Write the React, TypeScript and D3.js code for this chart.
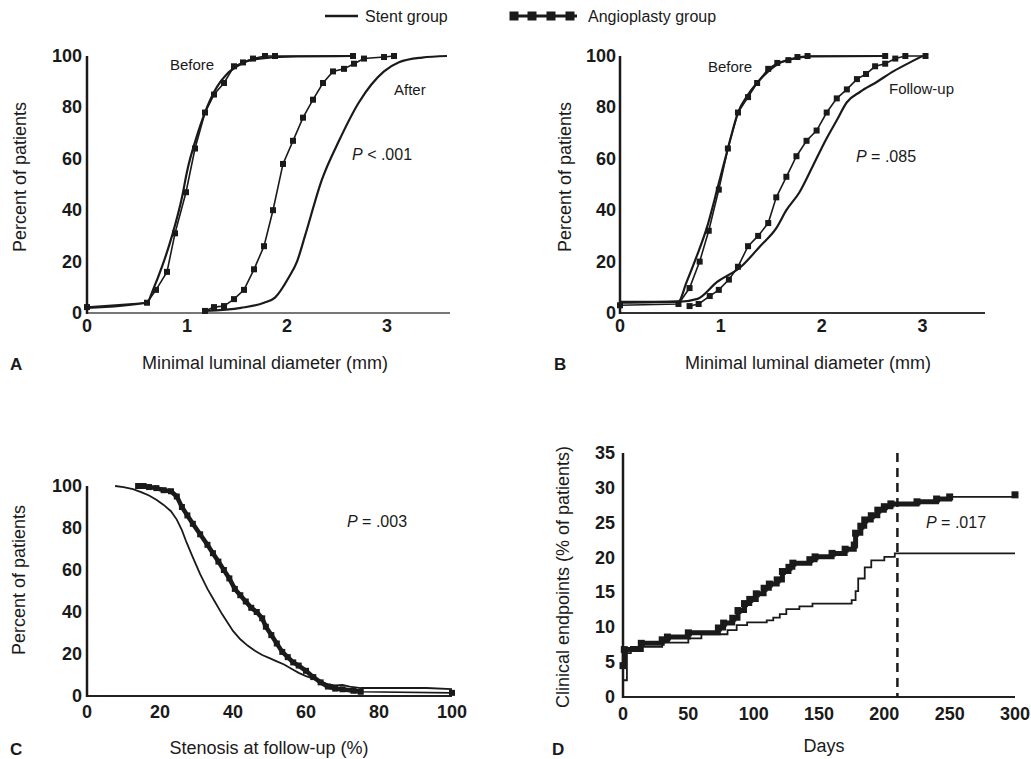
import React from 'react';
import * as d3 from 'd3';

type Pt = [number, number];

// tick values
const diamTicks = [0, 1, 2, 3];
const pctTicks = [0, 20, 40, 60, 80, 100];
const stenosisTicks = [0, 20, 40, 60, 80, 100];
const dayTicks = [0, 50, 100, 150, 200, 250, 300];
const endpointTicks = [0, 5, 10, 15, 20, 25, 30, 35];

// A: minimal luminal diameter, before and after
const aBeforeStent: Pt[] = [[0, 2], [0.6, 4], [0.66, 9], [0.75, 18], [0.85, 30], [0.95, 45], [1.0, 55], [1.1, 69], [1.2, 80], [1.3, 88], [1.4, 93], [1.5, 96], [1.6, 98], [1.8, 99.3], [2.1, 99.8], [2.66, 100]];
const aBeforeAngio: Pt[] = [[0, 2.3], [0.6, 4], [0.69, 9], [0.8, 16], [0.88, 31], [0.99, 47], [1.08, 64], [1.18, 78], [1.27, 85], [1.37, 89.5], [1.47, 96], [1.56, 97.5], [1.66, 99], [1.78, 100], [1.88, 100], [2.66, 100]];
const aAfterStent: Pt[] = [[1.18, 0.8], [1.54, 2], [1.77, 4], [1.88, 6], [2.02, 14], [2.1, 20], [2.18, 30], [2.35, 52], [2.52, 67], [2.72, 82], [2.97, 94], [3.12, 97.6], [3.35, 99.4], [3.6, 100]];
const aAfterAngio: Pt[] = [[1.18, 0.8], [1.27, 2.3], [1.37, 2.7], [1.47, 5.4], [1.57, 9], [1.67, 17], [1.77, 26], [1.86, 40], [1.96, 58], [2.06, 67], [2.16, 76], [2.26, 83], [2.36, 89.5], [2.46, 94], [2.57, 95], [2.67, 97], [2.77, 99], [2.97, 99.6], [3.07, 100]];

// B: minimal luminal diameter, before and follow-up
const bBeforeStent: Pt[] = [[0, 4], [0.58, 4.5], [0.66, 12], [0.76, 22], [0.86, 33], [0.97, 49], [1.07, 64], [1.17, 78], [1.27, 85], [1.37, 90], [1.47, 94], [1.57, 97], [1.7, 98.8], [1.9, 99.8], [2.63, 100]];
const bBeforeAngio: Pt[] = [[0, 3], [0.58, 3.5], [0.69, 9.7], [0.79, 20], [0.88, 32], [0.98, 48], [1.07, 64], [1.17, 78], [1.27, 84], [1.36, 89.5], [1.47, 95], [1.56, 97.3], [1.67, 98.4], [1.76, 99.6], [1.86, 100], [2.63, 100]];
const bFollowStent: Pt[] = [[0, 4.3], [0.57, 4.3], [0.77, 5.5], [0.96, 12], [1.2, 18], [1.39, 26], [1.55, 33], [1.65, 40], [1.78, 47], [1.91, 57], [2.05, 68], [2.15, 75], [2.25, 82], [2.38, 86], [2.55, 90], [2.71, 94], [2.9, 98], [3.0, 100]];
const bFollowAngio: Pt[] = [[0.69, 2.7], [0.78, 3.5], [0.89, 6.6], [0.98, 9], [1.08, 13], [1.17, 18], [1.27, 26], [1.37, 30], [1.47, 35], [1.55, 45], [1.65, 53], [1.75, 61], [1.85, 67], [1.95, 71], [2.05, 78], [2.15, 83.5], [2.25, 87], [2.35, 91], [2.44, 93], [2.53, 96], [2.63, 97], [2.73, 99], [2.83, 100], [3.03, 100]];

// C: stenosis at follow-up
const cStent: Pt[] = [[7.7, 100], [10, 99.5], [12.6, 98.5], [15, 97], [17, 95.5], [19, 93.5], [21, 91], [23, 88], [24.6, 84], [26, 79], [27.3, 73], [29, 66], [31, 58], [33, 51], [35, 45], [37, 39], [38.5, 35], [40, 31], [42, 27], [44, 24], [46, 21.5], [48, 19.5], [50, 18], [52, 16.5], [54, 15], [56, 13], [58, 11], [60, 9.5], [62, 8.3], [64, 7], [66, 5.5], [68, 5], [70, 5.3], [72, 4.5], [75, 3.8], [93, 3.8], [100, 3.3]];
const cAngio: Pt[] = [[14, 100], [15.5, 100], [17, 99.5], [19, 99], [21, 98], [23, 97.5], [24.6, 95], [26, 90], [27.5, 86], [29, 82], [31, 77], [33, 72], [34.5, 68], [36, 64], [37.5, 60], [39, 56], [40.5, 51], [42, 48], [43.5, 45], [45, 42], [46.5, 40], [48, 37], [49, 33], [50.5, 29], [52, 25], [53.5, 21], [55, 18.5], [56.5, 16], [58, 14.5], [60, 12], [62, 9], [64, 6.5], [66, 4.5], [68, 3.5], [70, 3.2], [73, 2.5], [75, 2], [100, 1.5]];

// D: clinical endpoints over days (step curves)
const dStent: Pt[] = [[0, 2.4], [3, 6.3], [6, 7.2], [30, 7.8], [50, 8.4], [60, 9], [80, 9.6], [87, 10.3], [95, 10.7], [110, 11], [115, 11.4], [120, 11.9], [125, 12.6], [135, 13], [145, 13.4], [175, 13.9], [178, 15.2], [180, 17], [185, 18.6], [190, 19.6], [200, 20.1], [208, 20.6], [300, 20.6]];
const dAngio: Pt[] = [[0, 4.5], [1, 6.8], [14, 7.7], [30, 8.2], [34, 8.6], [50, 9.2], [73, 9.9], [77, 10.6], [84, 11.3], [88, 12.4], [93, 13.4], [97, 14], [102, 14.8], [108, 15.6], [112, 16.2], [118, 16.8], [122, 18], [127, 18.6], [130, 19.2], [143, 19.7], [147, 20.1], [160, 20.6], [170, 21.2], [177, 21.8], [178, 23.5], [182, 24.5], [185, 25.4], [190, 26], [195, 26.8], [200, 27.3], [205, 27.7], [225, 28], [240, 28.4], [250, 28.7], [300, 29]];
const dCutoff = 210;

const FONT = "'Liberation Sans', Arial, Helvetica, sans-serif";
const INK = '#1a1a1a';

type Scale = d3.ScaleLinear<number, number>;

function Axes({ x, y, xTicks, yTicks, xDy, yDx, xColor }: { x: Scale; y: Scale; xTicks: number[]; yTicks: number[]; xDy: number; yDx: number; xColor: string }) {
  const [x0, x1] = x.range();
  const [y0, y1] = y.range();
  return (
    <g fontFamily={FONT} fontWeight="bold" fontSize={18} fill={INK}>
      <line x1={x0} x2={x1} y1={y0} y2={y0} stroke={xColor} strokeWidth={2} />
      <line x1={x0} x2={x0} y1={y0 + 1} y2={y1} stroke={INK} strokeWidth={2.5} />
      {xTicks.map((t) => (
        <text key={'x' + t} x={x(t)} y={y0 + xDy} textAnchor="middle">{t}</text>
      ))}
      {yTicks.map((t) => (
        <text key={'y' + t} x={x0 - yDx} y={y(t)} textAnchor="end" dominantBaseline="central">{t}</text>
      ))}
    </g>
  );
}

function Squares({ pts, x, y, size }: { pts: Pt[]; x: Scale; y: Scale; size: number }) {
  return (
    <g fill={INK}>
      {pts.map((d, i) => (
        <rect key={i} x={x(d[0]) - size / 2} y={y(d[1]) - size / 2} width={size} height={size} />
      ))}
    </g>
  );
}

function Label({ x, y, children }: any) {
  return (
    <text x={x} y={y} fontFamily={FONT} fontSize={15} fill={INK}>
      {children}
    </text>
  );
}

function YTitle({ x, y, text }: { x: number; y: number; text: string }) {
  return (
    <text transform={`translate(${x},${y}) rotate(-90)`} textAnchor="middle" dominantBaseline="central" fontFamily={FONT} fontSize={18} fill={INK}>
      {text}
    </text>
  );
}

export default function App() {
  // panel A
  const ax = d3.scaleLinear().domain([0, 3.63]).range([87, 450]);
  const ay = d3.scaleLinear().domain([0, 100]).range([313, 56]);
  // panel B
  const bx = d3.scaleLinear().domain([0, 3.62]).range([620, 985]);
  const by = d3.scaleLinear().domain([0, 100]).range([313, 56]);
  // panel C
  const cx = d3.scaleLinear().domain([0, 100]).range([87, 452]);
  const cy = d3.scaleLinear().domain([0, 100]).range([696, 486]);
  // panel D
  const dx = d3.scaleLinear().domain([0, 300]).range([623, 1015]);
  const dy = d3.scaleLinear().domain([0, 35]).range([697, 453]);

  const smooth = (x: Scale, y: Scale) => d3.line<Pt>().x((d) => x(d[0])).y((d) => y(d[1])).curve(d3.curveMonotoneX);
  const straight = (x: Scale, y: Scale) => d3.line<Pt>().x((d) => x(d[0])).y((d) => y(d[1]));
  const step = (x: Scale, y: Scale) => d3.line<Pt>().x((d) => x(d[0])).y((d) => y(d[1])).curve(d3.curveStepAfter);

  const cAngioThick = cAngio.filter((d) => d[0] <= 75);
  const dAngioThick = dAngio.filter((d) => d[0] <= 250);

  return (
    <svg width={1031} height={759} style={{ display: 'block', position: 'absolute', left: 0, top: 0, background: '#fff' }}>
      {/* legend */}
      <g fontFamily={FONT} fontSize={16} fill={INK}>
        <line x1={325} x2={358} y1={16} y2={16} stroke={INK} strokeWidth={2.5} />
        <text x={365} y={22}>Stent group</text>
        <line x1={510} x2={577} y1={16} y2={16} stroke={INK} strokeWidth={3} />
        {[514, 532, 551, 570].map((p) => (
          <rect key={p} x={p - 4.5} y={11.5} width={9} height={9} fill={INK} />
        ))}
        <text x={588} y={22}>Angioplasty group</text>
      </g>

      {/* Panel A */}
      <Axes x={ax} y={ay} xTicks={diamTicks} yTicks={pctTicks} xDy={19} yDx={5} xColor="#777" />
      <path d={smooth(ax, ay)(aBeforeStent)!} fill="none" stroke={INK} strokeWidth={2.2} />
      <path d={straight(ax, ay)(aBeforeAngio)!} fill="none" stroke={INK} strokeWidth={1.6} />
      <Squares pts={aBeforeAngio} x={ax} y={ay} size={6} />
      <path d={smooth(ax, ay)(aAfterStent)!} fill="none" stroke={INK} strokeWidth={2.2} />
      <path d={straight(ax, ay)(aAfterAngio)!} fill="none" stroke={INK} strokeWidth={1.6} />
      <Squares pts={aAfterAngio} x={ax} y={ay} size={6} />
      <Label x={170} y={70}>Before</Label>
      <Label x={394} y={95}>After</Label>
      <text x={352} y={160} fontFamily={FONT} fontSize={16} fill={INK}><tspan fontStyle="italic">P</tspan> {'<'} .001</text>
      <YTitle x={20} y={177} text="Percent of patients" />
      <text x={10} y={370} fontFamily={FONT} fontSize={17} fontWeight="bold" fill={INK}>A</text>
      <text x={265} y={369} textAnchor="middle" fontFamily={FONT} fontSize={18} fill={INK}>Minimal luminal diameter (mm)</text>

      {/* Panel B */}
      <Axes x={bx} y={by} xTicks={diamTicks} yTicks={pctTicks} xDy={19} yDx={4} xColor="#333" />
      <path d={smooth(bx, by)(bBeforeStent)!} fill="none" stroke={INK} strokeWidth={2.2} />
      <path d={straight(bx, by)(bBeforeAngio)!} fill="none" stroke={INK} strokeWidth={1.6} />
      <Squares pts={bBeforeAngio} x={bx} y={by} size={6} />
      <path d={smooth(bx, by)(bFollowStent)!} fill="none" stroke={INK} strokeWidth={2.2} />
      <path d={straight(bx, by)(bFollowAngio)!} fill="none" stroke={INK} strokeWidth={1.6} />
      <Squares pts={bFollowAngio} x={bx} y={by} size={6} />
      <Label x={708} y={72}>Before</Label>
      <Label x={889} y={94}>Follow-up</Label>
      <text x={856} y={162} fontFamily={FONT} fontSize={16} fill={INK}><tspan fontStyle="italic">P</tspan> = .085</text>
      <YTitle x={565} y={177} text="Percent of patients" />
      <text x={554} y={370} fontFamily={FONT} fontSize={17} fontWeight="bold" fill={INK}>B</text>
      <text x={808} y={369} textAnchor="middle" fontFamily={FONT} fontSize={18} fill={INK}>Minimal luminal diameter (mm)</text>

      {/* Panel C */}
      <Axes x={cx} y={cy} xTicks={stenosisTicks} yTicks={pctTicks} xDy={22} yDx={5} xColor="#222" />
      <path d={straight(cx, cy)(cStent)!} fill="none" stroke={INK} strokeWidth={1.8} />
      <path d={straight(cx, cy)(cAngio)!} fill="none" stroke={INK} strokeWidth={1.6} />
      <path d={straight(cx, cy)(cAngioThick)!} fill="none" stroke={INK} strokeWidth={4.5} />
      <Squares pts={cAngio} x={cx} y={cy} size={6} />
      <text x={347} y={527} fontFamily={FONT} fontSize={16} fill={INK}><tspan fontStyle="italic">P</tspan> = .003</text>
      <YTitle x={19} y={580} text="Percent of patients" />
      <text x={10} y={755} fontFamily={FONT} fontSize={17} fontWeight="bold" fill={INK}>C</text>
      <text x={269} y={754} textAnchor="middle" fontFamily={FONT} fontSize={18} fill={INK}>Stenosis at follow-up (%)</text>

      {/* Panel D */}
      <Axes x={dx} y={dy} xTicks={dayTicks} yTicks={endpointTicks} xDy={23} yDx={8} xColor="#222" />
      <line x1={dx(dCutoff)} x2={dx(dCutoff)} y1={dy(35)} y2={dy(0)} stroke={INK} strokeWidth={2.5} strokeDasharray="9,6" />
      <path d={step(dx, dy)(dStent)!} fill="none" stroke={INK} strokeWidth={1.8} />
      <path d={step(dx, dy)(dAngio)!} fill="none" stroke={INK} strokeWidth={1.6} />
      <path d={step(dx, dy)(dAngioThick)!} fill="none" stroke={INK} strokeWidth={5} />
      <Squares pts={dAngio} x={dx} y={dy} size={7} />
      <text x={926} y={528} fontFamily={FONT} fontSize={16} fill={INK}><tspan fontStyle="italic">P</tspan> = .017</text>
      <YTitle x={563} y={577} text="Clinical endpoints (% of patients)" />
      <text x={552} y={755} fontFamily={FONT} fontSize={17} fontWeight="bold" fill={INK}>D</text>
      <text x={824} y={752} textAnchor="middle" fontFamily={FONT} fontSize={18} fill={INK}>Days</text>
    </svg>
  );
}
